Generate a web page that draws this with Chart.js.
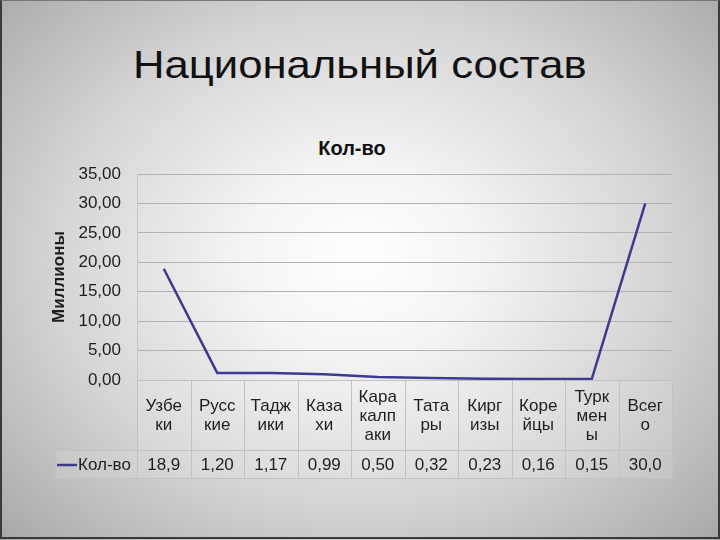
<!DOCTYPE html>
<html>
<head>
<meta charset="utf-8">
<script src="https://cdn.jsdelivr.net/npm/chart.js@4/dist/chart.umd.min.js"></script>
<style>
  html, body { margin: 0; padding: 0; }
  body {
    width: 720px; height: 540px; position: relative; overflow: hidden;
    background: radial-gradient(ellipse 75% 80% at 50% 48%, #ffffff 0%, #f4f4f4 22%, #d6d6d6 55%, #b2b2b2 85%, #9c9c9c 100%);
    font-family: "Liberation Sans", Arial, sans-serif;
  }
  #frame {
    position: absolute; left: 0; top: 0; width: 716px; height: 536px;
    border: 2px solid #3a3a3a; border-top: 1px solid #777; pointer-events: none;
  }
  #heading {
    position: absolute; left: 0; top: 41px; width: 720px; text-align: center;
    font-family: "Liberation Sans", Arial, sans-serif; font-size: 39px; color: #111;
    line-height: 48px; margin: 0; font-weight: normal;
    transform: scaleX(1.12); transform-origin: 362px 0;
  }
  #chartTitle {
    position: absolute; left: 0; top: 136px; width: 704px; text-align: center;
    font-family: "Liberation Sans", Arial, sans-serif; font-size: 20px; font-weight: bold; color: #111;
    line-height: 24px; margin: 0;
  }
  canvas { position: absolute; left: 0; top: 0; }
</style>
</head>
<body>
<h1 id="heading">Национальный состав</h1>
<div id="chartTitle">Кол-во</div>
<canvas id="c" width="720" height="540"></canvas>
<div id="frame"></div>
<script>
// ---- data ----
const categories = [
  ["Узбе", "ки"], ["Русс", "кие"], ["Тадж", "ики"], ["Каза", "хи"], ["Кара", "калп", "аки"],
  ["Тата", "ры"], ["Кирг", "изы"], ["Коре", "йцы"], ["Турк", "мен", "ы"], ["Всег", "о"]
];
const seriesName = "Кол-во";
const seriesValues = [18.9, 1.20, 1.17, 0.99, 0.50, 0.32, 0.23, 0.16, 0.15, 30.0];
const tableLabels = ["18,9", "1,20", "1,17", "0,99", "0,50", "0,32", "0,23", "0,16", "0,15", "30,0"];
const yAxisTitle = "Миллионы";

const lineColor = "#3d3a92";
const gridColor = "#b3b3b3";
const tableLineColor = "#c2c2c2";
const textColor = "#1e1e1e";
const FONT = '"Liberation Sans", Arial, sans-serif';

const dataTablePlugin = {
  id: "dataTable",
  afterDraw(chart) {
    const ctx = chart.ctx;
    const x = chart.scales.x;
    const area = chart.chartArea;
    const top = area.bottom;           // 380
    const mid = top + 70;              // 450
    const bottom = top + 98;           // 478
    const legLeft = 55;
    const n = categories.length;
    const step = (x.getPixelForValue(1) - x.getPixelForValue(0));
    ctx.save();
    // cell background
    ctx.fillStyle = "rgba(255,255,255,0.12)";
    ctx.fillRect(area.left, top, area.right - area.left, bottom - top);
    ctx.fillRect(legLeft, mid, area.left - legLeft, bottom - mid);
    ctx.strokeStyle = tableLineColor;
    ctx.lineWidth = 1;
    ctx.beginPath();
    // horizontals
    ctx.moveTo(area.left, top + 0.5); ctx.lineTo(area.right, top + 0.5);
    ctx.moveTo(legLeft, mid + 0.5); ctx.lineTo(area.right, mid + 0.5);
    ctx.moveTo(legLeft, bottom + 0.5); ctx.lineTo(area.right, bottom + 0.5);
    // verticals
    for (let i = 0; i <= n; i++) {
      const px = Math.round(x.getPixelForValue(i) - step / 2) + 0.5;
      ctx.moveTo(px, top); ctx.lineTo(px, bottom);
    }
    ctx.moveTo(legLeft + 0.5, mid); ctx.lineTo(legLeft + 0.5, bottom);
    ctx.stroke();

    ctx.fillStyle = textColor;
    ctx.font = "17px " + FONT;
    ctx.textAlign = "center";
    ctx.textBaseline = "middle";
    const lh = 19;
    categories.forEach((lines, i) => {
      const cx = x.getPixelForValue(i);
      const cy = (top + mid) / 2 + 1;
      const start = cy - (lines.length - 1) * lh / 2;
      lines.forEach((t, j) => ctx.fillText(t, cx, start + j * lh));
    });
    const vy = (mid + bottom) / 2 + 1;
    tableLabels.forEach((t, i) => ctx.fillText(t, x.getPixelForValue(i), vy));
    // legend
    ctx.strokeStyle = lineColor;
    ctx.lineWidth = 2.5;
    ctx.beginPath();
    ctx.moveTo(57, vy); ctx.lineTo(77, vy);
    ctx.stroke();
    ctx.textAlign = "left";
    ctx.fillText(seriesName, 78, vy);
    ctx.restore();
  }
};

new Chart(document.getElementById("c"), {
  type: "line",
  data: {
    labels: categories,
    datasets: [{
      label: seriesName,
      data: seriesValues,
      borderColor: lineColor,
      borderWidth: 2.5,
      pointRadius: 0,
      tension: 0,
      fill: false
    }]
  },
  options: {
    responsive: false,
    animation: false,
    devicePixelRatio: 1,
    layout: { padding: { top: 174, left: 49, right: 48, bottom: 62 } },
    plugins: { legend: { display: false }, tooltip: { enabled: false } },
    scales: {
      x: {
        type: "category",
        offset: true,
        grid: { display: false, drawTicks: false },
        border: { display: false },
        ticks: { display: false },
        afterFit(scale) { scale.height = 98; }
      },
      y: {
        min: 0, max: 35,
        ticks: {
          stepSize: 5,
          padding: 16,
          color: textColor,
          font: { family: FONT, size: 17 },
          callback: (v) => v.toFixed(2).replace(".", ",")
        },
        grid: { color: gridColor, lineWidth: 1, drawTicks: false },
        border: { display: true, color: "#c8c8c8" },
        title: {
          display: true,
          text: yAxisTitle,
          color: textColor,
          padding: 0,
          font: { family: FONT, size: 17, weight: "bold" }
        },
        afterFit(scale) { scale.width = 88; }
      }
    }
  },
  plugins: [dataTablePlugin]
});
</script>
</body>
</html>
